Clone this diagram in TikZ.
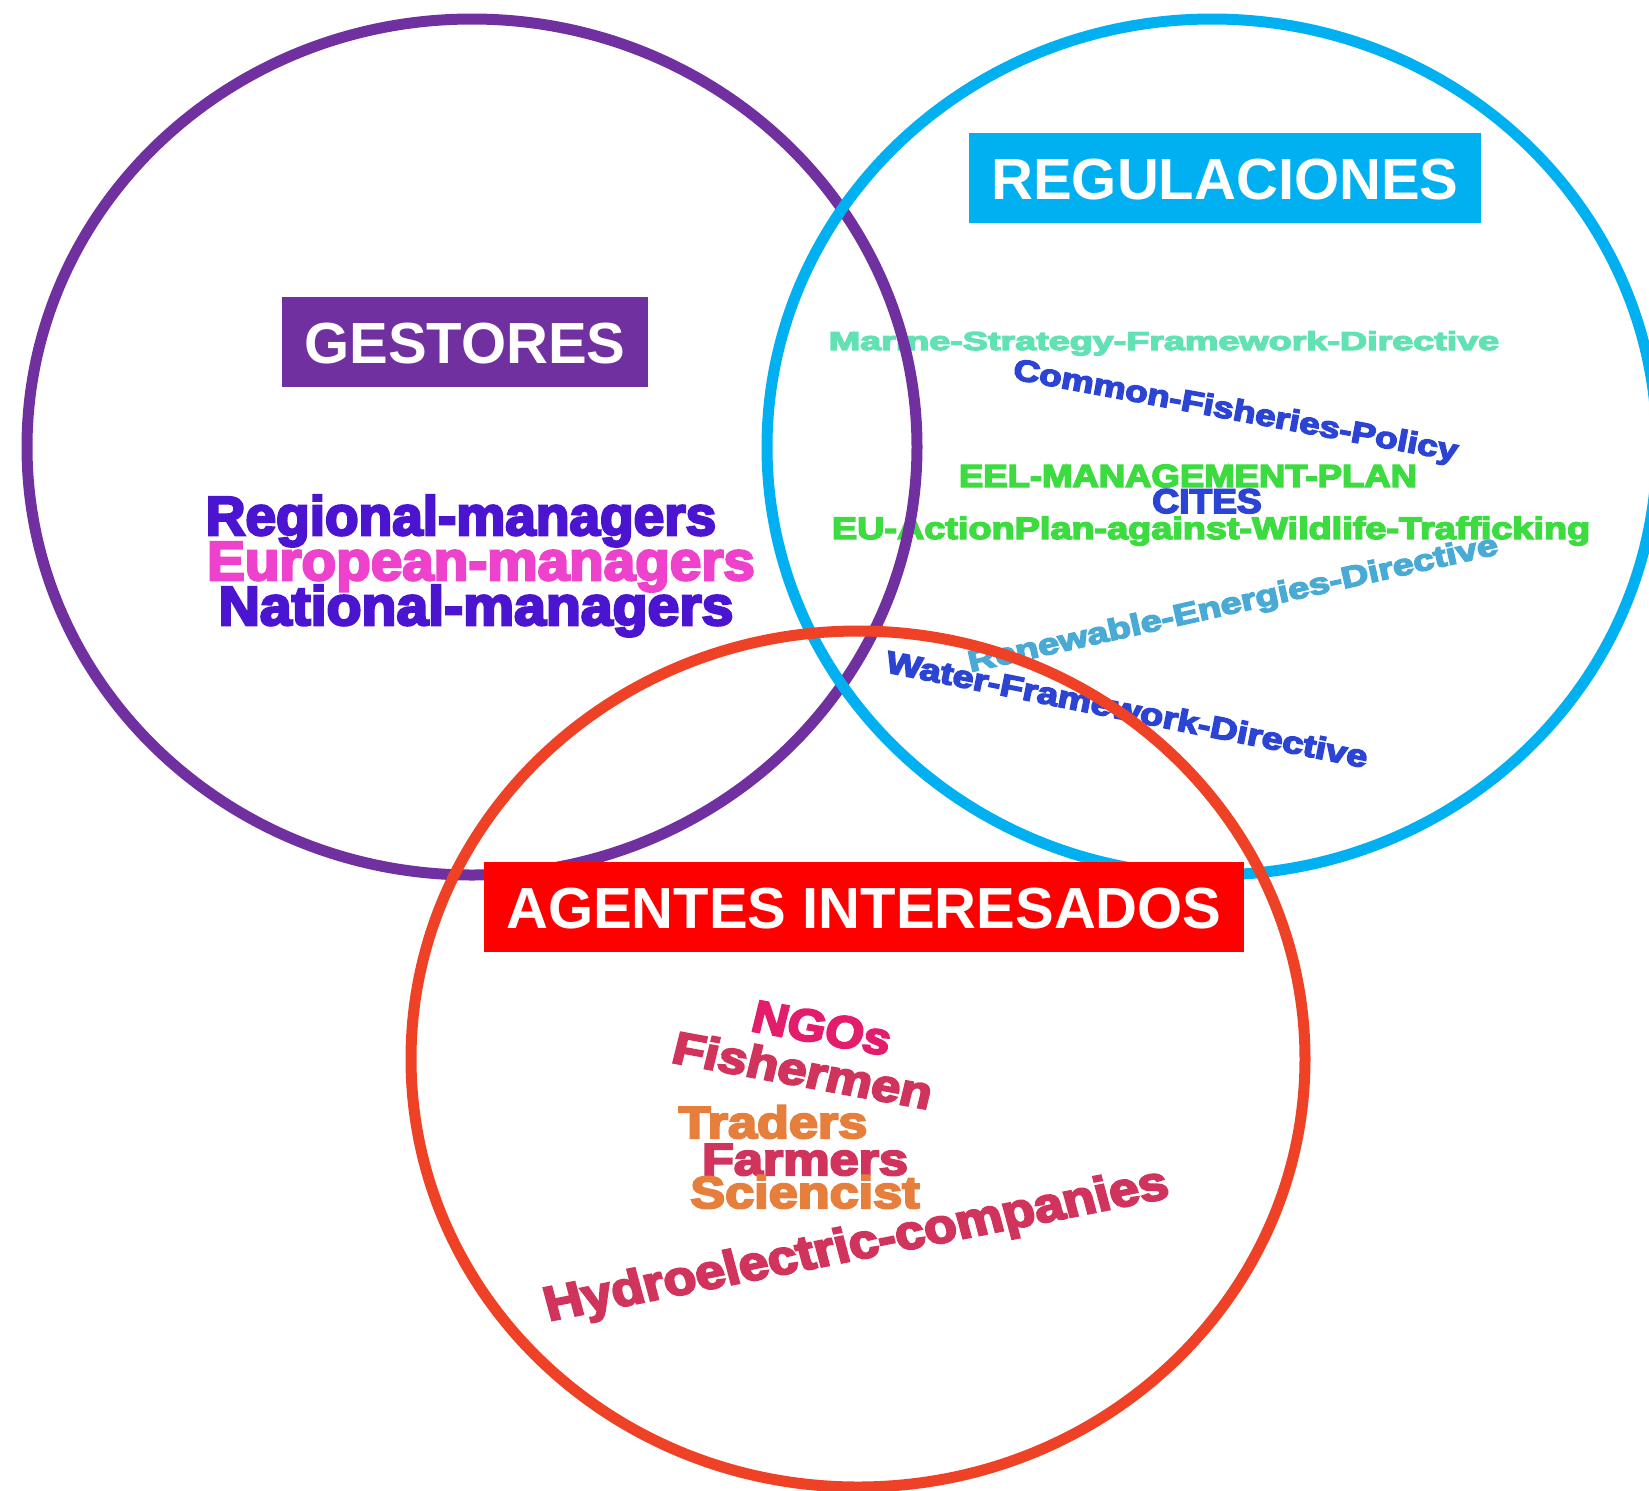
\documentclass[tikz,border=0pt]{standalone}
\usepackage{fontspec}
\setmainfont{Liberation Sans}
\newfontfamily\cloudfont{Liberation Sans Bold}[FakeBold=4.5]
\definecolor{GestPurple}{HTML}{7030A0}
\definecolor{RegBlue}{HTML}{00B0F0}
\definecolor{AgentRing}{HTML}{EE4125}
\definecolor{AgentBox}{HTML}{FF0000}
\definecolor{Violet}{HTML}{4A14D0}
\definecolor{Orchid}{HTML}{EE42CC}
\definecolor{Mint}{HTML}{62E2B4}
\definecolor{Royal}{HTML}{2C44D4}
\definecolor{Leaf}{HTML}{3CDC40}
\definecolor{Steel}{HTML}{4AAAD6}
\definecolor{Raspberry}{HTML}{E31C6C}
\definecolor{Crimson}{HTML}{D0345C}
\definecolor{Tangerine}{HTML}{E67E3C}
\newcommand{\wfont}[1]{\fontsize{#1}{#1}\selectfont\cloudfont}
\newcommand{\tagfont}[1]{\fontsize{#1}{#1}\selectfont\bfseries}

\begin{document}
\begin{tikzpicture}[
  x=0.5pt, y=-0.5pt,
  ring/.style={line width=5.5pt},
  tag/.style={text=white, font=\tagfont{29}, inner xsep=11pt, inner ysep=0pt, minimum height=45pt, text height=21pt, text depth=0pt},
  word/.style={inner sep=0pt, anchor=base},
  gest/.style={word, font=\wfont{27.5}},
  agent/.style={word, font=\wfont{22.5}, xscale=1.16}
]
\useasboundingbox (0,0) rectangle (1649,1490);

% gestores
\node[gest, text=Violet] (regional) at (461,535) {Regional-managers};
\node[gest, text=Orchid, xscale=1.03] (european) at (481,580) {European-managers};
\node[gest, text=Violet, xscale=1.04] (national) at (476,625) {National-managers};

% regulaciones
\node[word, text=Mint, font=\wfont{13}, xscale=1.45] (msfd) at (1164,350) {Marine-Strategy-Framework-Directive};
\node[word, text=Royal, font=\wfont{15}, rotate=-10.5, xscale=1.22] (cfp) at (1234,420) {Common-Fisheries-Policy};
\node[word, text=Leaf, font=\wfont{16}, xscale=1.14] (eelplan) at (1188,487) {EEL-MANAGEMENT-PLAN};
\node[word, text=Royal, font=\wfont{17.2}, xscale=1.08] (cites) at (1207,513) {CITES};
\node[word, text=Leaf, font=\wfont{15.5}, xscale=1.22] (euplan) at (1211,539) {EU-ActionPlan-against-Wildlife-Trafficking};
\node[word, text=Steel, font=\wfont{15}, rotate=12.6, xscale=1.26] (red) at (1235,613) {Renewable-Energies-Directive};
\node[word, text=Royal, font=\wfont{15.5}, rotate=-11.3, xscale=1.22] (wfd) at (1125,720) {Water-Framework-Directive};

% agentes
\node[agent, anchor=center, text=Raspberry, rotate=-12, xscale=0.95] (ngos) at (822,1028) {NGOs};
\node[agent, anchor=center, text=Crimson, rotate=-12] (fishermen) at (803,1070) {Fishermen};
\node[agent, text=Tangerine] (traders) at (773,1138) {Traders};
\node[agent, text=Crimson] (farmers) at (805,1175) {Farmers};
\node[agent, text=Tangerine] (sciencist) at (805,1208) {Sciencist};
\node[agent, text=Crimson, font=\wfont{24}, rotate=13, xscale=0.96] (hydro) at (860,1259) {Hydroelectric-companies};

% circulos
\draw[ring, GestPurple] (472,447) ellipse [x radius=445, y radius=428];
\draw[ring, RegBlue] (1212,447) ellipse [x radius=445, y radius=428];
\draw[ring, AgentRing] (858,1059) ellipse [x radius=447, y radius=428];

% etiquetas
\node[tag, fill=GestPurple] (gestBox) at (465,342) {GESTORES};
\node[tag, fill=RegBlue] (regBox) at (1225,178) {REGULACIONES};
\node[tag, fill=AgentBox] (agentBox) at (864,907) {AGENTES INTERESADOS};
\end{tikzpicture}
\end{document}
